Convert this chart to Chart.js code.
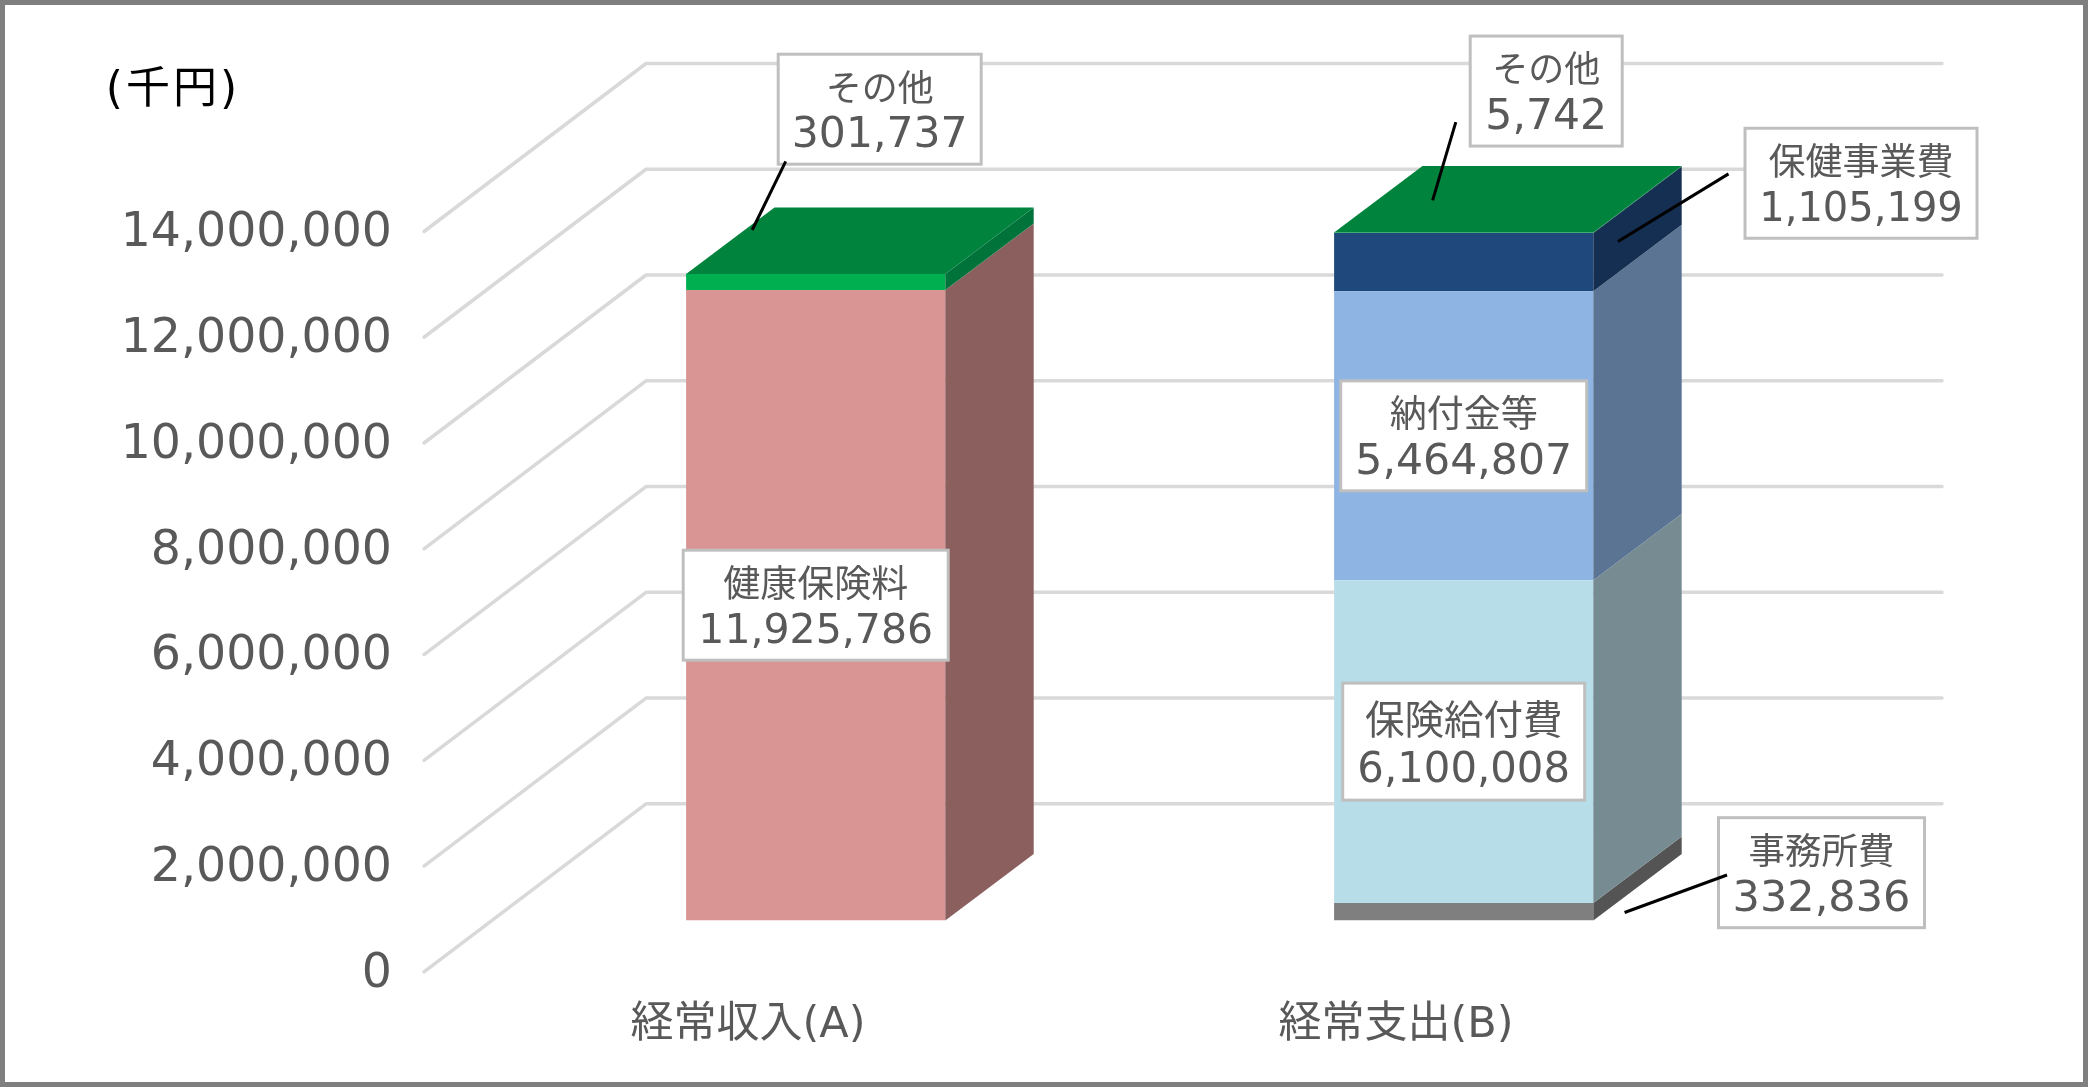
<!DOCTYPE html>
<html lang="ja">
<head>
<meta charset="utf-8">
<title>経常収入と経常支出</title>
<script src="https://cdn.jsdelivr.net/npm/chart.js@4"></script>
<style>
    body { margin: 0; background: #fff; }
    canvas { display: block; }
</style>
</head>
<body>
<canvas id="grafico" width="2088" height="1087"></canvas>
<script>
const categorias = ['経常収入(A)', '経常支出(B)'];
const unidad = '(千円)';
const yMax = 14000000;
const yPaso = 2000000;

const nombres = ['健康保険料', 'その他', '事務所費', '保険給付費', '納付金等', '保健事業費', 'その他'];
const kenkoHoken = [11925786, null];
const sonotaIngreso = [301737, null];
const jimusho = [null, 332836];
const hokenKyufu = [null, 6100008];
const nofukin = [null, 5464807];
const hokenJigyo = [null, 1105199];
const sonotaGasto = [null, 5742];

const colores = ['#d99594', '#00b050', '#7f7f7f', '#b7dee8', '#8db4e2', '#1f497d', '#00b050'];
const coloresLado = ['#8c5f5f', '#00733a', '#545454', '#778c92', '#5b7493', '#152f52', '#00733a'];
const colorTapa = '#00843d';

// profundidad de la barra y desplazamiento respecto al plano frontal del eje
const fondoX = 222, fondoY = 168;
const barraX = 67.7, barraY = 51.3;
const ladoX = 88.4, ladoY = 66.5;

const fuente = "'DejaVu Sans', 'Noto Sans CJK JP', sans-serif";

// etiquetas: desplazamiento desde el centro del segmento y linea guia
const etiquetas = [
    { ds: 0, i: 0, dx: 0, dy: 0, size: 37, num: 41, ancho: 265, alto: 110 },
    { ds: 1, i: 0, dx: 64, dy: -172.7, size: 36, num: 42.5, ancho: 203, alto: 110, guia: [-30, -120.6, -63.5, -51.9] },
    { ds: 2, i: 1, dx: 357.8, dy: -39, size: 36.5, num: 43, ancho: 206, alto: 110, guia: [263.3, -36.7, 160.9, 0.8] },
    { ds: 3, i: 1, dx: 0, dy: 0, size: 39.5, num: 41.8, ancho: 242, alto: 117 },
    { ds: 4, i: 1, dx: 0, dy: 0, size: 37, num: 42.6, ancho: 246, alto: 110 },
    { ds: 5, i: 1, dx: 397.3, dy: -78.9, size: 37, num: 40, ancho: 232, alto: 110, guia: [264.8, -88.3, 154.3, -20.6] },
    { ds: 6, i: 1, dx: 82.5, dy: -141.7, size: 36, num: 42.5, ancho: 152, alto: 110, guia: [-7.9, -110.7, -31.1, -32.4] }
];

const valores = [kenkoHoken, sonotaIngreso, jimusho, hokenKyufu, nofukin, hokenJigyo, sonotaGasto];

function poligono(ctx, color, puntos) {
    ctx.fillStyle = color;
    ctx.beginPath();
    puntos.forEach((p, n) => n ? ctx.lineTo(p[0], p[1]) : ctx.moveTo(p[0], p[1]));
    ctx.closePath();
    ctx.fill();
}

const plugin3d = {
    id: 'plugin3d',
    afterLayout(chart) {
        // los numeros del eje quedan un poco mas abajo que la marca
        chart.scales.y.getLabelItems().forEach(item => { item.options.translation[1] += 2.5; });
    },
    beforeDraw(chart) {
        const ctx = chart.ctx;
        ctx.save();
        ctx.fillStyle = '#fff';
        ctx.fillRect(0, 0, chart.width, chart.height);
        ctx.strokeStyle = '#7f7f7f';
        ctx.lineWidth = 5;
        ctx.strokeRect(2.5, 2.5, chart.width - 5, chart.height - 5);
        ctx.restore();
    },
    beforeDatasetsDraw(chart) {
        const ctx = chart.ctx;
        const { left, right } = chart.chartArea;
        ctx.save();
        ctx.strokeStyle = '#d9d9d9';
        ctx.lineWidth = 3.5;
        ctx.lineCap = 'round';
        ctx.lineJoin = 'round';
        chart.scales.y.ticks.forEach(t => {
            const y = chart.scales.y.getPixelForValue(t.value);
            ctx.beginPath();
            ctx.moveTo(left, y);
            ctx.lineTo(left + fondoX, y - fondoY);
            ctx.lineTo(right + fondoX, y - fondoY);
            ctx.stroke();
        });
        ctx.restore();
        ctx.save();
        ctx.translate(barraX, -barraY);
    },
    afterDatasetsDraw(chart) {
        const ctx = chart.ctx;
        chart.data.datasets.forEach((ds, d) => {
            chart.getDatasetMeta(d).data.forEach((bar, i) => {
                if (ds.data[i] == null) return;
                const x = bar.x + bar.width / 2;
                poligono(ctx, coloresLado[d], [[x, bar.y], [x + ladoX, bar.y - ladoY], [x + ladoX, bar.base - ladoY], [x, bar.base]]);
            });
        });
        // tapa de cada columna, sobre el segmento mas alto
        categorias.forEach((c, i) => {
            let top = null;
            chart.data.datasets.forEach((ds, d) => {
                if (ds.data[i] != null) top = chart.getDatasetMeta(d).data[i];
            });
            const a = top.x - top.width / 2, b = top.x + top.width / 2, y = top.y;
            poligono(ctx, colorTapa, [[a, y], [b, y], [b + ladoX, y - ladoY], [a + ladoX, y - ladoY]]);
        });
        ctx.restore();
    },
    afterDraw(chart) {
        const ctx = chart.ctx;
        ctx.save();
        ctx.fillStyle = '#000';
        ctx.font = '44px ' + fuente;
        ctx.textAlign = 'center';
        ctx.textBaseline = 'middle';
        ctx.letterSpacing = '3px';
        ctx.fillText(unidad, 173, 92);
        ctx.letterSpacing = '0px';

        etiquetas.forEach(e => {
            const bar = chart.getDatasetMeta(e.ds).data[e.i];
            const cx = bar.x + barraX, cy = (bar.y + bar.base) / 2 - barraY;
            const numero = valores[e.ds][e.i].toLocaleString('en-US');
            const bx = cx + e.dx, by = cy + e.dy;
            ctx.fillStyle = '#fff';
            ctx.fillRect(bx - e.ancho / 2, by - e.alto / 2, e.ancho, e.alto);
            ctx.strokeStyle = '#bfbfbf';
            ctx.lineWidth = 3;
            ctx.strokeRect(bx - e.ancho / 2, by - e.alto / 2, e.ancho, e.alto);
            ctx.fillStyle = '#595959';
            ctx.font = e.num + 'px ' + fuente;
            ctx.fillText(numero, bx, by + 27 + (e.alto - 110) / 2.5);
            ctx.font = e.size + 'px ' + fuente;
            ctx.fillText(nombres[e.ds], bx, by - 18);
            if (e.guia) {
                ctx.strokeStyle = '#000';
                ctx.lineWidth = 3;
                ctx.beginPath();
                ctx.moveTo(cx + e.guia[0], cy + e.guia[1]);
                ctx.lineTo(cx + e.guia[2], cy + e.guia[3]);
                ctx.stroke();
            }
        });
        ctx.restore();
    }
};

new Chart(document.getElementById('grafico'), {
    type: 'bar',
    data: {
        labels: categorias,
        datasets: nombres.map((n, d) => ({
            label: n,
            data: valores[d],
            backgroundColor: colores[d],
            borderWidth: 0,
            barPercentage: 0.4,
            categoryPercentage: 1
        }))
    },
    options: {
        responsive: false,
        animation: false,
        layout: { padding: { top: 231.5, right: 368, left: 0, bottom: 0 } },
        plugins: { legend: { display: false }, tooltip: { enabled: false } },
        scales: {
            x: {
                stacked: true,
                grid: { display: false },
                border: { display: false },
                afterFit: s => { s.height = 115.2; },
                ticks: { color: '#595959', padding: 20, maxRotation: 0, font: { family: fuente, size: 43 } }
            },
            y: {
                stacked: true,
                min: 0,
                max: yMax,
                grid: { display: false },
                border: { display: false },
                afterFit: s => { s.width = 424; },
                ticks: {
                    stepSize: yPaso,
                    color: '#595959',
                    padding: 24,
                    font: { family: fuente, size: 47.4 },
                    callback: v => v.toLocaleString('en-US')
                }
            }
        }
    },
    plugins: [plugin3d]
});
</script>
</body>
</html>
